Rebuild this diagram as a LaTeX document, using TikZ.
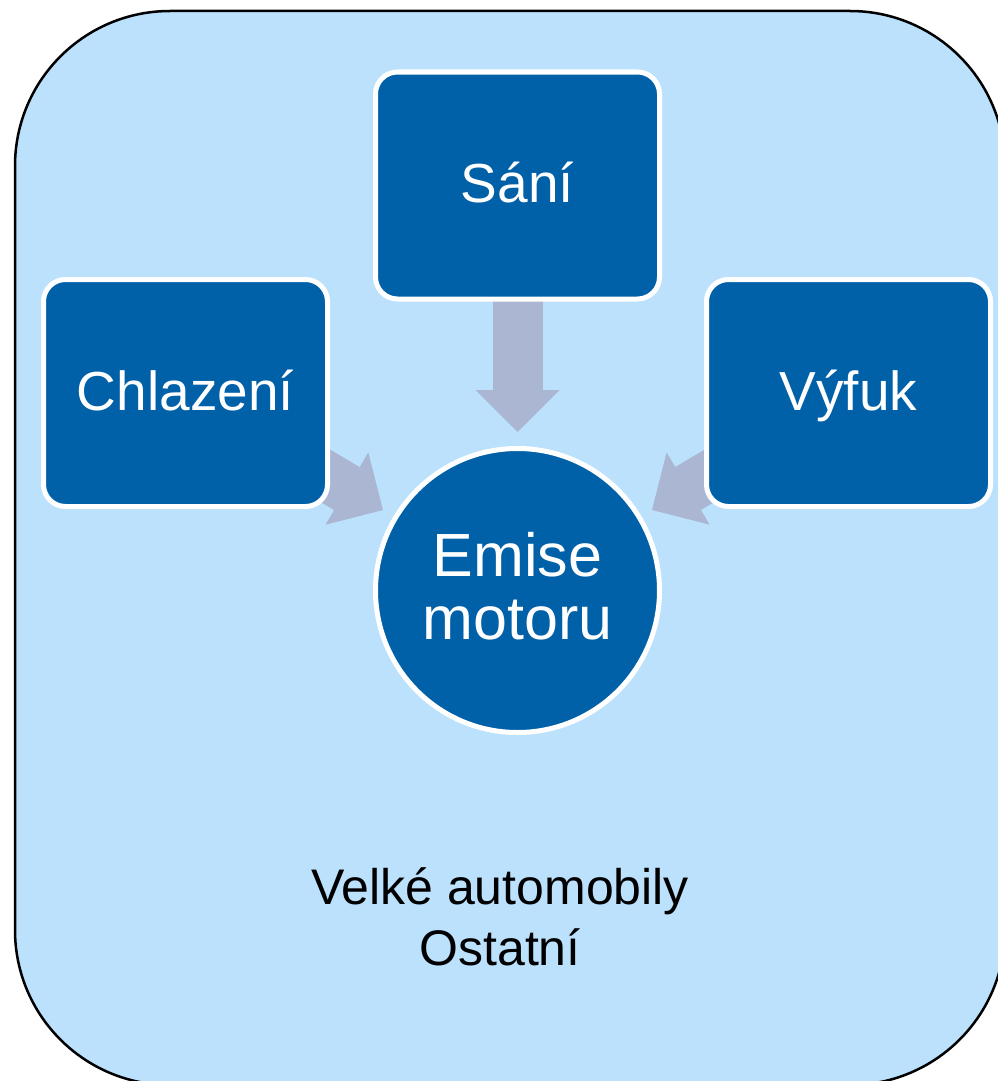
\documentclass[tikz,border=0pt]{standalone}
\usepackage{fontspec}
\setmainfont{Liberation Sans}
\usetikzlibrary{arrows.meta}
\definecolor{panelblue}{RGB}{187,225,252}
\definecolor{boxblue}{RGB}{0,96,168}
\definecolor{flowgrey}{RGB}{171,182,210}
\pgfdeclarelayer{panel}
\pgfdeclarelayer{flows}
\pgfsetlayers{panel,flows,main}

\begin{document}
\begin{tikzpicture}[x=1pt,y=-1pt,
  stage/.style={draw=white, line width=5pt, fill=boxblue, rounded corners=22pt,
    minimum width=284pt, minimum height=227pt, inner sep=0pt, text=white,
    font=\fontsize{55}{66}\selectfont, text height=34pt, text depth=0pt},
  hub/.style={circle, draw=white, line width=5pt, fill=boxblue,
    minimum size=284pt, inner sep=0pt},
  hubtext/.style={text=white, align=center, inner sep=0pt,
    font=\fontsize{61}{63}\selectfont},
  caption/.style={text=black, align=center, inner sep=0pt,
    font=\fontsize{50}{61}\selectfont},
  flow/.style={draw=flowgrey, line width=50pt,
    -{Triangle[width=84pt, length=42pt, line width=0pt]}}
]
\useasboundingbox (0,0) rectangle (998,1081);

% panel behind everything
\begin{pgfonlayer}{panel}
  \begin{scope}
    \clip (0,0) rectangle (998,1081);
    \draw[black, line width=2.5pt, fill=panelblue, rounded corners=155pt]
      (15,11) rectangle (1005,1085);
  \end{scope}
\end{pgfonlayer}

% the three sources and the central hub
\node[stage] (sani) at (517.5,185.5) {Sání};
\node[stage] (chlazeni) at (185.5,393) {Chlazení};
\node[stage] (vyfuk) at (848.5,393) {Výfuk};
\node[hub] (emise) at (517.5,590.5) {};
\node[hubtext, anchor=south] (emisetext) at (517.5,640) {Emise\\motoru};

% caption
\node[caption, anchor=south] (segment) at (500,966) {Velké automobily\\Ostatní};

% block arrows pointing into the hub
\coordinate (tipS) at (517.5,432);
\coordinate (tipC) at (383,510);
\coordinate (tipV) at (652,510);
\begin{pgfonlayer}{flows}
  \draw[flow] (sani.center) -- (tipS);
  \draw[flow] (chlazeni.center) -- (tipC);
  \draw[flow] (vyfuk.center) -- (tipV);
\end{pgfonlayer}
\end{tikzpicture}
\end{document}
